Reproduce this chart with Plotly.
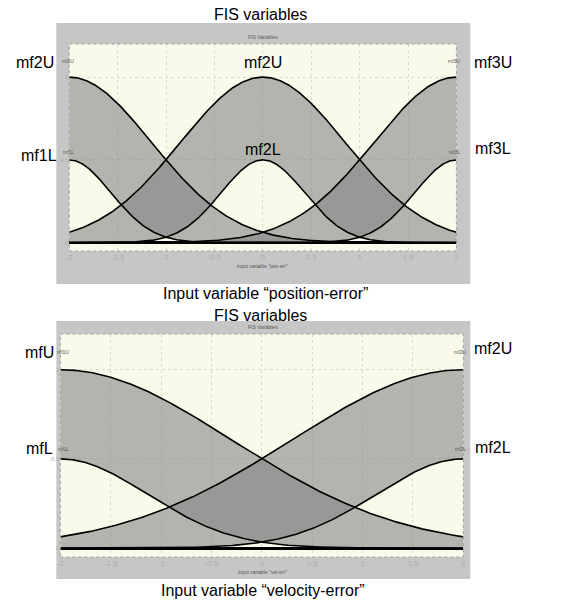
import numpy as np
import plotly.graph_objects as go

# ---- data (membership-function parameters) ----
pos_centers = [-2.0, 0.0, 2.0]
pos_sigma_upper = [0.85, 0.85, 0.85]
pos_sigma_lower = [0.43, 0.43, 0.43]
pos_height_lower = [0.5, 0.5, 0.5]
pos_big_labels = [("mf2U", 31, 63), ("mf1L", 35, 155), ("mf2U", 262, 62), ("mf2L", 262, 150),
                  ("mf3U", 495, 62), ("mf3L", 495, 148)]

vel_centers = [-2.0, 2.0]
vel_sigma_upper = [1.70, 1.70]
vel_sigma_lower = [0.86, 0.86]
vel_height_lower = [0.5, 0.5]
vel_big_labels = [("mfU", 36, 352), ("mfL", 36, 449), ("mf2U", 495, 348), ("mf2L", 495, 447)]

x_ticks = [-2, -1.5, -1, -0.5, 0, 0.5, 1, 1.5, 2]
x_tick_text = ["-2", "-1.5", "-1", "-0.5", "0", "0.5", "1", "1.5", "2"]
y_ticks = [0, 0.5, 1]
y_tick_text = ["0", "0.5", "1"]

W, H = 576, 602
FONT = "Liberation Sans, Arial, sans-serif"
CREAM = "#fafaea"
OUTER = "#c6c6c6"
FOU = "rgba(134,134,134,0.6)"

xs = np.linspace(-2, 2, 401)


def gauss(c, s, h):
    return h * np.exp(-((xs - c) ** 2) / (2 * s * s))


fig = go.Figure()


def add_panel(centers, su, sl, hl, xa, ya):
    curves = []
    for c, s_u, s_l, h in zip(centers, su, sl, hl):
        lo = gauss(c, s_l, h)
        up = gauss(c, s_u, 1.0)
        curves += [lo, up]
        fig.add_trace(go.Scatter(x=xs, y=lo, mode="lines", line=dict(width=0),
                                 xaxis=xa, yaxis=ya, showlegend=False, hoverinfo="skip"))
        fig.add_trace(go.Scatter(x=xs, y=up, mode="lines", line=dict(width=0), fill="tonexty",
                                 fillcolor=FOU, xaxis=xa, yaxis=ya, showlegend=False,
                                 hoverinfo="skip"))
    for cv in curves:
        fig.add_trace(go.Scatter(x=xs, y=cv, mode="lines", line=dict(color="black", width=1.6),
                                 xaxis=xa, yaxis=ya, showlegend=False, hoverinfo="skip"))


add_panel(pos_centers, pos_sigma_upper, pos_sigma_lower, pos_height_lower, "x", "y")
add_panel(vel_centers, vel_sigma_upper, vel_sigma_lower, vel_height_lower, "x2", "y2")


def px_x(p):
    return p / W


def px_y(p):
    return 1 - p / H


axis_common_x = dict(range=[-2, 2], tickvals=x_ticks, ticktext=x_tick_text,
                     tickfont=dict(size=8, color="#ababab", family=FONT),
                     showgrid=True, gridcolor="#d9d9d0", griddash="dot", gridwidth=1,
                     zeroline=False, showline=False, ticks="", fixedrange=True)
axis_common_y = dict(range=[-0.05, 1.2], tickvals=y_ticks, ticktext=y_tick_text,
                     tickfont=dict(size=6, color="#ababab", family=FONT),
                     showgrid=True, gridcolor="#d9d9d0", griddash="dot", gridwidth=1,
                     zeroline=True, zerolinecolor="black", zerolinewidth=2.5,
                     showline=False, ticks="", fixedrange=True)

fig.update_layout(
    width=W, height=H,
    margin=dict(l=0, r=0, t=0, b=0),
    paper_bgcolor="white",
    plot_bgcolor="rgba(0,0,0,0)",
    xaxis=dict(domain=[px_x(66), px_x(458)], anchor="y", **axis_common_x),
    yaxis=dict(domain=[px_y(251), px_y(44)], anchor="x", **axis_common_y),
    xaxis2=dict(domain=[px_x(57), px_x(465)], anchor="y2", **axis_common_x),
    yaxis2=dict(domain=[px_y(557), px_y(334)], anchor="x2", **axis_common_y),
)

shapes = [
    dict(type="rect", xref="paper", yref="paper", x0=px_x(53), x1=px_x(472), y0=px_y(284),
         y1=px_y(23), fillcolor=OUTER, line=dict(width=0), layer="below"),
    dict(type="rect", xref="paper", yref="paper", x0=px_x(53), x1=px_x(472), y0=px_y(579),
         y1=px_y(321), fillcolor=OUTER, line=dict(width=0), layer="below"),
    dict(type="rect", xref="x domain", yref="y domain", x0=0, x1=1, y0=0, y1=1,
         fillcolor=CREAM, line=dict(width=0), layer="below"),
    dict(type="rect", xref="x2 domain", yref="y2 domain", x0=0, x1=1, y0=0, y1=1,
         fillcolor=CREAM, line=dict(width=0), layer="below"),
    dict(type="rect", xref="x domain", yref="y domain", x0=0, x1=1, y0=0, y1=1,
         line=dict(color="#a0a0a0", width=1, dash="dot"), layer="above"),
    dict(type="rect", xref="x2 domain", yref="y2 domain", x0=0, x1=1, y0=0, y1=1,
         line=dict(color="#a0a0a0", width=1, dash="dot"), layer="above"),
]
fig.update_layout(shapes=shapes)

ann = []


def text(t, x, y, size, color="black", xanchor="center"):
    ann.append(dict(text=t, x=px_x(x), y=px_y(y), xref="paper", yref="paper",
                    showarrow=False, xanchor=xanchor, yanchor="middle",
                    font=dict(size=size, color=color, family=FONT)))


# main titles and captions
text("FIS variables", 260, 14, 16)
text("Input variable \u201cposition-error\u201d", 265, 293, 16)
text("FIS variables", 260, 315, 16)
text("Input variable \u201cvelocity-error\u201d", 262, 590, 16)

# small inner titles
text("FIS Variables", 262, 37, 5, "#555555")
text("input variable \"pos-err\"", 262, 266, 5, "#555555")
text("FIS Variables", 262, 327, 5, "#555555")
text("input variable \"vel-err\"", 262, 572, 5, "#555555")

# tiny MF labels
text("mf1U", 65, 61, 5, "#555555")
text("mf1L", 65, 152, 5, "#555555")
text("mf3U", 456, 61, 5, "#555555")
text("mf3L", 456, 152, 5, "#555555")
text("mf1U", 60, 352, 5, "#555555")
text("mf1L", 60, 449, 5, "#555555")
text("mf2U", 462, 352, 5, "#555555")
text("mf2L", 462, 449, 5, "#555555")

for t, x, y in pos_big_labels + vel_big_labels:
    text(t, x, y, 16)

fig.update_layout(annotations=ann)

fig.write_html("out.html")
